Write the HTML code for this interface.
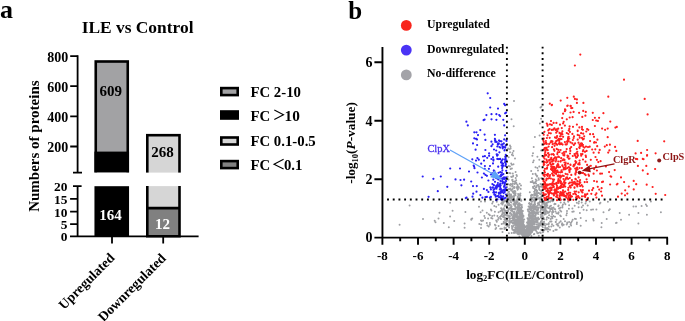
<!DOCTYPE html>
<html><head><meta charset="utf-8"><style>
html,body{margin:0;padding:0;background:#fff;width:685px;height:321px;overflow:hidden}
svg{display:block;will-change:transform}
text{font-family:"Liberation Serif",serif}
</style></head><body>
<svg width="685" height="321" viewBox="0 0 685 321" xmlns="http://www.w3.org/2000/svg">
<text x="0" y="17.7" font-weight="bold" font-size="26">a</text>
<text x="81.7" y="32.8" font-weight="bold" font-size="17.4">ILE vs Control</text>
<rect x="95.75" y="61.5" width="32" height="113" fill="#a2a2a4" stroke="#000" stroke-width="2.6"/>
<rect x="94.45" y="151.6" width="34.6" height="21" fill="#000"/>
<rect x="147.3" y="135.2" width="32.2" height="40" fill="#d6d6d6" stroke="#000" stroke-width="2.6"/>
<rect x="90" y="172.6" width="100" height="13" fill="#fff"/>
<rect x="94.45" y="186.2" width="34.6" height="50.1" fill="#000"/>
<rect x="147.3" y="186.1" width="32.2" height="22" fill="#d6d6d6"/>
<rect x="147.3" y="208.1" width="32.2" height="28.2" fill="#808080"/>
<path d="M147.3 186.1V236.3M179.5 186.1V236.3M146 208.1H180.8M146 236.3H180.8" stroke="#000" stroke-width="2.6" fill="none"/>
<path d="M77.6 55.2V172.6M73 172.6H82M77.6 186.1V236.3M73 186.1H81.6M70 236.3H198.6" stroke="#000" stroke-width="1.8" fill="none"/>
<path d="M70.2 56.1H77.6M70.2 86.2H77.6M70.2 116.4H77.6M70.2 146.5H77.6M70.1 198.8H77.6M70.1 211.6H77.6M70.1 224.2H77.6M112 236.3V243.6M163.2 236.3V243.6" stroke="#000" stroke-width="1.8" fill="none"/>
<text x="68.3" y="61.9" font-weight="bold" font-size="14" text-anchor="end">800</text>
<text x="68.3" y="92.0" font-weight="bold" font-size="14" text-anchor="end">600</text>
<text x="68.3" y="122.2" font-weight="bold" font-size="14" text-anchor="end">400</text>
<text x="68.3" y="152.3" font-weight="bold" font-size="14" text-anchor="end">200</text>
<text x="67.5" y="191.0" font-weight="bold" font-size="13.4" text-anchor="end">20</text>
<text x="67.5" y="203.7" font-weight="bold" font-size="13.4" text-anchor="end">15</text>
<text x="67.5" y="216.5" font-weight="bold" font-size="13.4" text-anchor="end">10</text>
<text x="67.5" y="229.1" font-weight="bold" font-size="13.4" text-anchor="end">5</text>
<text x="67.5" y="241.2" font-weight="bold" font-size="13.4" text-anchor="end">0</text>
<text x="110.85" y="95.6" font-weight="bold" font-size="15" text-anchor="middle">609</text>
<text x="162.45" y="156.5" font-weight="bold" font-size="15" text-anchor="middle">268</text>
<text x="110.55" y="219.8" font-weight="bold" font-size="15" text-anchor="middle" fill="#fff">164</text>
<text x="162.4" y="229.1" font-weight="bold" font-size="15" text-anchor="middle" fill="#fff">12</text>
<text transform="translate(115.5,258.7) rotate(-45)" font-weight="bold" font-size="13.7" text-anchor="end">Upregulated</text>
<text transform="translate(166.7,259) rotate(-45)" font-weight="bold" font-size="13.7" text-anchor="end">Downregulated</text>
<text transform="translate(39,211.8) rotate(-90)" font-weight="bold" font-size="15">Numbers of proteins</text>
<rect x="221.3" y="88.1" width="16.4" height="7" fill="#a2a2a4" stroke="#000" stroke-width="2.6"/>
<rect x="221.3" y="111.5" width="16.4" height="7" fill="#000" stroke="#000" stroke-width="2.6"/>
<rect x="221.3" y="137.5" width="16.4" height="7" fill="#d6d6d6" stroke="#000" stroke-width="2.6"/>
<rect x="221.3" y="161.1" width="16.4" height="7" fill="#808080" stroke="#000" stroke-width="2.6"/>
<text x="250.4" y="97.1" font-weight="bold" font-size="14.8">FC 2-10</text>
<text x="250.4" y="120.5" font-weight="bold" font-size="14.8">FC</text>
<path d="M274.3 110.1L283.5 114.7L274.3 119.4" stroke="#000" stroke-width="1.1" fill="none"/>
<text x="284.5" y="120.7" font-weight="bold" font-size="15.3">10</text>
<text x="250.4" y="146.4" font-weight="bold" font-size="14.8">FC 0.1-0.5</text>
<text x="250.4" y="169.7" font-weight="bold" font-size="14.8">FC</text>
<path d="M283.6 159.3L274 164.2L283.6 169" stroke="#000" stroke-width="1.1" fill="none"/>
<text x="283.9" y="169.7" font-weight="bold" font-size="14.8">0.1</text>
<text x="348.3" y="18.8" font-weight="bold" font-size="25">b</text>
<circle cx="406.3" cy="25.4" r="5.4" fill="#f8251c"/>
<text x="427.1" y="28" font-weight="bold" font-size="11.8">Upregulated</text>
<circle cx="406.3" cy="50.1" r="5.4" fill="#4a33f5"/>
<text x="427.1" y="52.7" font-weight="bold" font-size="11.8">Downregulated</text>
<circle cx="406.3" cy="74.9" r="5.4" fill="#a3a3a8"/>
<text x="427.1" y="77.3" font-weight="bold" font-size="11.8">No-difference</text>
<path d="M409.6 205.5h0M423.0 218.9h0M399.6 224.8h0M450.1 202.7h0M439.5 212.7h0M452.6 210.7h0M465.4 212.0h0M450.1 216.4h0M438.5 218.6h0M434.7 220.7h0M435.5 222.3h0M454.2 221.1h0M443.8 222.9h0M471.3 219.8h0M464.6 223.5h0M448.8 227.3h0M464.6 227.7h0M471.2 219.2h0M472.2 218.5h0M479.0 206.7h0M479.3 223.9h0M600.4 202.7h0M599.8 203.6h0M607.9 201.7h0M609.8 209.2h0M608.9 210.2h0M603.5 212.3h0M606.7 218.9h0M601.7 222.9h0M616.0 222.9h0M601.4 227.3h0M650.9 201.5h0M633.5 206.5h0M636.0 206.5h0M641.6 206.1h0M645.9 204.5h0M646.9 206.1h0M619.7 213.0h0M629.1 214.8h0M638.4 213.0h0M646.9 214.8h0M660.9 212.3h0M621.0 219.8h0M616.6 222.7h0M638.4 223.6h0M579.0 201.5h0M578.6 203.6h0M581.7 202.4h0M586.1 201.5h0M585.5 203.6h0M589.8 201.5h0M583.0 205.5h0M581.7 207.3h0M587.7 205.5h0M578.6 207.3h0M583.6 209.8h0M586.7 210.2h0M591.1 209.8h0M593.0 209.5h0M596.4 209.5h0M579.9 213.0h0M580.7 218.0h0M586.1 220.7h0M593.2 218.9h0M593.6 220.4h0M580.7 225.7h0M514.0 101.0h0M511.5 119.3h0M513.7 126.2h0M540.5 107.5h0M541.4 106.8h0M541.1 118.7h0M539.9 123.4h0M534.9 137.0h0M539.6 135.5h0M510.0 145.5h0M510.6 146.7h0M508.1 148.6h0M509.4 149.2h0M510.6 148.6h0M533.7 147.0h0M541.1 150.4h0M513.5 151.1h0M512.5 152.9h0M510.0 152.3h0M511.9 154.8h0M513.1 155.4h0M533.0 153.2h0M532.4 155.7h0M537.4 156.7h0M515.0 158.5h0M508.7 157.3h0M539.3 159.8h0M533.7 160.4h0M533.0 162.3h0M511.2 163.5h0M511.9 164.8h0M513.5 164.2h0M508.7 166.0h0M510.0 166.6h0M510.6 169.1h0M511.9 168.5h0M535.5 167.3h0M537.4 167.9h0M539.3 166.6h0M531.2 171.0h0M515.6 171.9h0M538.0 170.4h0M481.0 201.5h0M485.0 201.5h0M492.2 203.6h0M493.0 201.7h0M496.8 201.7h0M494.3 206.1h0M496.2 206.7h0M498.6 204.8h0M482.5 210.5h0M480.6 212.3h0M490.9 209.5h0M491.4 210.5h0M486.8 212.7h0M494.9 211.7h0M498.6 212.3h0M484.3 216.1h0M485.0 217.9h0M488.7 214.2h0M489.9 215.2h0M492.2 216.1h0M494.3 215.4h0M497.4 216.1h0M498.4 217.9h0M488.1 218.5h0M491.2 217.9h0M492.4 218.5h0M481.0 220.4h0M481.8 221.0h0M483.1 220.4h0M496.2 220.4h0M496.8 221.7h0M498.0 219.8h0M486.8 222.9h0M489.9 222.9h0M481.2 224.4h0M487.4 225.6h0M488.7 226.4h0M489.9 224.8h0M494.9 224.8h0M495.5 225.6h0M481.0 228.1h0M495.5 228.9h0M496.2 227.9h0M498.6 226.0h0M522.0 223.9h0M530.2 224.4h0M512.7 218.8h0M532.5 181.1h0M530.8 215.6h0M516.4 216.9h0M530.8 225.4h0M529.7 223.9h0M533.4 217.1h0M521.9 234.5h0M526.2 236.3h0M524.7 227.6h0M517.5 188.7h0M533.9 234.2h0M535.9 206.5h0M516.5 221.7h0M538.8 235.8h0M523.9 233.1h0M520.5 220.5h0M525.3 236.6h0M517.1 210.0h0M541.5 191.7h0M533.7 218.7h0M534.7 197.6h0M523.5 234.8h0M512.4 216.9h0M520.6 230.0h0M525.6 235.5h0M530.1 207.0h0M533.5 197.3h0M525.3 232.8h0M541.6 200.1h0M529.7 219.4h0M515.0 229.4h0M530.9 212.8h0M522.9 226.7h0M526.9 236.8h0M531.2 225.0h0M507.3 220.1h0M518.8 227.4h0M521.3 222.4h0M536.3 198.0h0M532.9 230.1h0M518.3 213.2h0M507.3 224.4h0M516.9 216.8h0M538.2 185.0h0M539.8 190.1h0M529.4 231.3h0M510.1 184.8h0M530.6 233.2h0M522.2 215.7h0M517.6 225.1h0M523.8 231.0h0M509.0 191.8h0M540.3 224.3h0M536.8 197.6h0M536.5 219.3h0M513.0 192.4h0M517.3 226.7h0M531.5 212.5h0M525.2 231.6h0M515.5 214.3h0M530.8 233.6h0M524.4 229.9h0M529.9 200.2h0M527.1 236.4h0M537.2 191.1h0M527.6 221.9h0M524.7 235.0h0M522.2 233.0h0M510.5 218.4h0M529.8 226.1h0M526.4 234.0h0M521.5 230.0h0M523.4 231.1h0M524.9 226.3h0M529.3 235.3h0M507.1 203.2h0M516.2 213.7h0M532.8 174.0h0M531.1 217.1h0M542.5 201.2h0M517.8 223.5h0M523.4 234.9h0M530.7 222.3h0M531.6 212.0h0M542.4 187.4h0M529.0 226.2h0M509.4 193.8h0M511.6 206.2h0M517.0 214.8h0M509.3 222.3h0M530.0 224.5h0M527.9 230.8h0M517.0 233.0h0M537.0 220.8h0M511.8 225.9h0M531.0 231.2h0M540.2 186.4h0M540.8 217.6h0M535.2 212.9h0M518.8 226.3h0M522.9 231.6h0M526.3 235.2h0M511.1 194.6h0M525.1 232.7h0M525.0 232.7h0M539.9 201.2h0M524.3 228.9h0M538.2 207.6h0M524.1 232.9h0M526.8 236.9h0M524.2 235.4h0M522.0 234.0h0M521.8 226.7h0M522.1 227.7h0M512.1 227.8h0M530.7 206.3h0M532.6 224.4h0M527.3 230.3h0M513.7 225.4h0M524.3 234.1h0M519.7 197.2h0M535.6 217.2h0M523.6 221.7h0M537.8 222.4h0M519.0 210.9h0M541.4 216.4h0M531.6 231.4h0M522.7 229.8h0M532.1 232.1h0M538.8 179.7h0M526.8 234.4h0M510.3 212.8h0M508.2 184.3h0M527.5 229.7h0M530.5 230.6h0M514.3 181.5h0M521.3 209.2h0M523.4 224.3h0M534.5 182.7h0M525.1 236.1h0M522.0 214.8h0M527.9 233.4h0M526.2 235.5h0M530.1 217.5h0M529.5 223.5h0M527.3 234.0h0M519.7 228.5h0M538.0 205.1h0M513.5 216.6h0M530.1 221.9h0M534.7 199.1h0M527.1 231.1h0M529.6 223.9h0M520.9 221.8h0M534.8 212.0h0M540.2 223.9h0M524.5 233.8h0M528.9 221.3h0M522.1 222.9h0M518.6 187.6h0M512.5 189.1h0M519.5 207.3h0M530.2 231.7h0M512.2 211.6h0M516.8 202.0h0M528.5 229.6h0M531.1 228.5h0M530.1 225.7h0M525.7 237.1h0M532.7 229.9h0M540.4 194.2h0M518.2 208.7h0M532.5 228.3h0M521.5 220.1h0M517.9 226.0h0M529.4 212.1h0M534.6 202.2h0M519.0 222.5h0M518.4 212.5h0M538.9 226.9h0M531.0 225.2h0M522.2 228.8h0M524.0 224.9h0M508.1 215.4h0M518.4 228.4h0M517.6 201.9h0M524.9 235.2h0M525.9 237.0h0M527.5 218.2h0M525.3 234.5h0M536.4 199.0h0M526.7 234.7h0M522.2 228.1h0M519.7 221.9h0M525.9 236.6h0M511.0 221.1h0M536.7 222.2h0M519.5 209.2h0M529.2 220.4h0M521.0 230.8h0M529.4 232.1h0M523.8 234.1h0M530.9 230.2h0M513.0 176.6h0M524.8 235.6h0M507.4 224.0h0M535.7 181.8h0M536.4 213.1h0M535.1 204.5h0M521.7 229.2h0M541.8 213.7h0M527.4 231.4h0M529.0 222.5h0M535.4 218.0h0M524.6 234.5h0M509.3 197.6h0M525.9 236.7h0M512.8 173.4h0M524.5 233.7h0M511.0 210.6h0M542.3 215.0h0M517.0 213.9h0M523.0 230.8h0M525.9 237.0h0M526.0 237.2h0M532.6 211.4h0M531.9 197.6h0M535.7 190.0h0M522.1 220.2h0M530.8 230.7h0M536.7 210.5h0M530.7 213.1h0M520.0 223.7h0M529.8 218.7h0M524.2 228.5h0M530.5 233.9h0M530.0 233.1h0M525.9 234.9h0M509.0 225.6h0M511.9 184.2h0M531.5 218.5h0M526.6 234.8h0M519.6 198.5h0M534.9 203.0h0M537.8 195.7h0M530.0 221.1h0M525.0 227.6h0M509.6 199.8h0M521.9 220.7h0M535.3 213.8h0M541.2 229.7h0M524.0 235.9h0M527.4 232.4h0M513.9 232.9h0M510.9 194.9h0M530.6 222.9h0M532.9 219.0h0M528.0 234.0h0M512.5 179.8h0M529.0 234.4h0M526.9 235.2h0M515.6 229.0h0M528.1 228.0h0M524.5 235.3h0M515.7 202.6h0M534.9 190.5h0M517.3 228.9h0M536.4 195.1h0M518.7 224.8h0M507.1 190.2h0M526.7 229.2h0M524.4 231.7h0M525.3 235.1h0M533.8 219.2h0M531.9 226.1h0M524.2 230.5h0M531.0 197.2h0M522.3 232.3h0M516.3 220.8h0M530.6 204.0h0M518.6 207.8h0M531.4 231.3h0M512.8 181.6h0M531.3 201.3h0M520.1 211.1h0M506.9 199.8h0M525.6 234.6h0M524.6 235.7h0M519.1 210.5h0M519.6 210.6h0M515.6 203.2h0M517.6 216.8h0M510.7 189.4h0M511.3 197.4h0M532.5 223.9h0M520.3 229.5h0M524.9 231.8h0M534.4 186.1h0M515.5 231.5h0M516.6 202.9h0M525.1 234.7h0M514.6 212.4h0M527.7 226.7h0M524.4 234.1h0M531.4 235.9h0M527.4 229.6h0M525.3 234.3h0M533.2 182.6h0M526.4 236.2h0M540.1 223.1h0M541.8 230.3h0M541.4 205.9h0M520.3 224.8h0M523.4 215.8h0M527.8 232.0h0M520.4 209.1h0M532.5 226.4h0M541.3 193.0h0M523.0 231.2h0M527.1 225.2h0M522.8 225.5h0M525.4 236.4h0M515.4 219.5h0M516.9 176.0h0M523.9 235.6h0M526.7 235.9h0M524.9 234.9h0M520.3 210.8h0M537.8 203.3h0M529.5 234.4h0M526.1 235.2h0M532.7 222.0h0M519.1 216.7h0M518.7 218.5h0M528.3 231.1h0M521.0 185.6h0M531.0 229.0h0M535.5 219.5h0M524.6 234.4h0M520.7 229.8h0M524.7 233.3h0M524.0 232.3h0M534.6 223.5h0M520.2 228.3h0M517.0 212.8h0M520.7 189.1h0M523.8 231.7h0M516.8 215.3h0M513.9 197.5h0M536.4 187.2h0M527.6 232.2h0M529.2 232.9h0M533.1 216.4h0M513.7 230.4h0M525.5 237.2h0M535.6 219.5h0M530.5 232.8h0M528.8 224.0h0M522.2 227.4h0M535.6 200.1h0M531.1 209.3h0M529.2 207.1h0M522.5 234.7h0M536.2 189.8h0M527.9 233.1h0M529.2 218.3h0M519.1 221.6h0M518.0 220.9h0M526.6 232.8h0M521.3 216.4h0M532.3 216.9h0M528.3 219.9h0M507.4 194.1h0M514.5 202.1h0M510.8 184.1h0M524.4 230.4h0M522.1 228.7h0M521.3 227.2h0M541.3 178.3h0M525.9 237.1h0M523.8 230.5h0M524.2 219.5h0M531.6 194.8h0M514.2 187.6h0M535.5 194.1h0M520.9 233.3h0M532.6 212.2h0M535.3 215.8h0M523.2 232.1h0M524.0 234.4h0M522.4 225.5h0M509.0 225.0h0M538.3 225.7h0M521.2 224.6h0M537.6 209.4h0M520.4 217.2h0M533.2 212.3h0M509.4 221.1h0M534.3 221.8h0M523.5 232.3h0M529.5 224.9h0M530.2 226.6h0M514.9 208.4h0M525.9 235.8h0M508.9 216.0h0M535.8 179.5h0M525.3 234.4h0M521.4 220.7h0M524.7 235.7h0M528.4 231.0h0M527.8 228.7h0M515.7 178.0h0M533.5 223.1h0M526.7 230.1h0M509.7 223.7h0M527.0 231.7h0M534.1 216.3h0M523.9 232.9h0M517.7 185.9h0M523.0 219.8h0M529.2 209.1h0M528.4 232.3h0M534.4 206.4h0M527.4 228.3h0M529.2 223.8h0M530.2 233.7h0M542.0 208.6h0M521.7 222.1h0M521.4 233.1h0M533.0 220.8h0M539.6 198.1h0M507.3 198.9h0M540.6 206.8h0M528.1 229.5h0M514.6 217.9h0M528.4 227.3h0M517.8 226.1h0M516.6 225.1h0M527.2 235.6h0M518.5 233.8h0M526.0 235.6h0M536.6 207.5h0M522.6 233.4h0M529.0 228.6h0M519.2 226.0h0M529.0 233.0h0M538.6 224.1h0M521.9 228.3h0M530.8 229.3h0M535.0 207.9h0M531.7 204.3h0M522.3 221.3h0M519.4 209.1h0M522.7 227.0h0M528.6 229.1h0M522.7 229.6h0M517.5 223.1h0M532.2 215.7h0M525.3 235.6h0M507.7 205.0h0M522.7 232.3h0M540.3 206.1h0M530.8 224.8h0M525.6 236.3h0M523.2 227.8h0M529.1 227.7h0M519.3 223.4h0M524.0 234.4h0M534.0 227.4h0M529.4 227.5h0M525.9 236.3h0M513.5 221.9h0M530.4 226.0h0M523.1 233.8h0M526.8 231.9h0M514.5 195.6h0M523.8 231.0h0M520.6 224.9h0M531.1 229.3h0M519.6 219.1h0M522.6 222.7h0M523.1 234.3h0M520.2 226.7h0M511.2 202.4h0M540.0 232.5h0M525.1 227.2h0M511.2 176.7h0M540.5 212.2h0M529.1 216.8h0M524.1 234.1h0M531.2 209.4h0M524.0 227.8h0M520.0 205.2h0M523.2 225.3h0M526.5 234.7h0M509.7 213.6h0M525.6 236.8h0M542.8 227.2h0M523.9 232.3h0M521.1 229.3h0M528.9 225.6h0M518.3 221.1h0M526.1 234.8h0M527.7 230.6h0M514.7 215.2h0M515.1 205.7h0M525.4 236.7h0M529.1 227.6h0M518.1 207.4h0M520.8 208.3h0M524.3 228.6h0M525.9 236.2h0M536.3 190.9h0M532.1 225.8h0M529.6 231.0h0M523.2 234.6h0M536.6 175.4h0M534.2 208.1h0M520.0 215.2h0M528.2 234.6h0M514.2 192.8h0M521.6 223.9h0M509.9 195.5h0M542.5 174.0h0M534.8 229.4h0M514.9 231.3h0M516.2 180.3h0M520.3 229.7h0M518.9 187.4h0M540.1 225.4h0M523.9 234.0h0M523.6 234.5h0M514.7 223.5h0M531.0 207.0h0M520.4 212.9h0M537.9 227.2h0M529.1 233.2h0M535.3 206.6h0M530.7 228.2h0M529.5 225.3h0M519.7 210.3h0M539.2 188.6h0M519.2 216.7h0M521.6 222.0h0M529.2 230.1h0M520.2 214.6h0M518.5 224.8h0M527.0 235.3h0M541.3 191.2h0M532.5 194.9h0M536.7 197.1h0M525.7 237.1h0M527.5 223.3h0M508.3 192.1h0M536.1 183.6h0M532.6 197.7h0M531.3 208.6h0M532.7 214.9h0M524.2 234.6h0M525.0 234.9h0M531.2 227.5h0M529.7 224.5h0M518.2 219.0h0M523.6 233.9h0M524.8 229.4h0M529.1 224.9h0M518.9 218.7h0M529.1 224.1h0M528.5 230.4h0M524.7 233.9h0M513.9 198.8h0M526.5 236.2h0M520.4 231.1h0M525.0 235.2h0M536.6 222.2h0M521.5 233.1h0M525.7 237.2h0M528.7 224.7h0M526.3 235.2h0M531.4 228.0h0M538.6 178.3h0M514.4 187.1h0M534.3 206.3h0M529.6 223.7h0M535.7 227.3h0M525.8 235.9h0M536.5 218.4h0M515.6 193.2h0M526.4 235.3h0M542.0 192.5h0M521.9 224.8h0M527.9 230.3h0M517.4 233.4h0M520.5 220.1h0M536.7 180.4h0M528.1 230.2h0M539.3 204.4h0M523.6 226.9h0M514.5 216.0h0M526.7 227.0h0M530.0 228.9h0M530.4 205.6h0M521.1 219.9h0M520.6 188.7h0M521.1 225.8h0M526.7 231.5h0M542.6 222.2h0M516.6 187.3h0M530.2 224.5h0M534.4 212.6h0M520.8 220.4h0M517.1 222.6h0M525.9 236.6h0M532.4 219.1h0M514.2 214.0h0M509.6 189.1h0M524.1 233.6h0M539.1 193.3h0M520.3 209.8h0M539.2 197.8h0M525.6 236.9h0M509.1 227.4h0M536.5 228.0h0M520.0 217.3h0M518.2 212.1h0M540.1 199.1h0M532.4 218.4h0M523.5 219.6h0M508.9 209.5h0M518.4 195.2h0M538.3 228.7h0M511.0 202.2h0M533.8 182.7h0M517.9 189.2h0M523.2 232.0h0M519.3 203.3h0M537.6 213.2h0M525.3 231.1h0M515.6 231.0h0M529.1 225.6h0M527.8 235.3h0M519.9 212.1h0M531.5 216.6h0M514.7 200.8h0M537.0 221.1h0M522.8 228.3h0M519.9 205.8h0M509.8 218.9h0M511.7 189.8h0M508.0 210.2h0M534.8 216.6h0M526.7 235.9h0M524.1 233.1h0M527.3 230.9h0M513.5 209.1h0M530.1 229.4h0M531.4 223.4h0M526.4 234.3h0M518.7 212.5h0M529.5 232.3h0M518.9 221.1h0M539.1 187.4h0M519.3 228.0h0M527.9 222.6h0M522.8 226.0h0M524.7 235.1h0M537.0 218.4h0M521.3 229.7h0M536.8 213.0h0M524.6 236.5h0M511.7 214.3h0M521.3 210.5h0M520.4 213.7h0M528.9 226.7h0M516.9 217.1h0M524.3 231.2h0M542.4 202.3h0M520.3 198.7h0M520.0 208.5h0M518.0 224.2h0M533.3 209.0h0M533.7 209.9h0M538.5 219.1h0M524.6 225.7h0M520.7 227.6h0M525.4 236.2h0M525.0 234.5h0M527.6 228.2h0M541.9 200.4h0M532.8 208.6h0M526.3 236.2h0M534.7 208.7h0M531.6 228.7h0M525.3 234.2h0M506.9 213.6h0M523.8 232.9h0M508.0 199.5h0M524.1 230.6h0M538.0 209.9h0M518.5 232.4h0M520.1 219.6h0M531.3 207.4h0M517.9 226.7h0M513.9 193.4h0M541.9 209.1h0M515.1 204.5h0M529.5 223.0h0M528.8 231.7h0M536.7 191.8h0M518.9 225.4h0M531.9 198.6h0M519.7 225.7h0M525.0 233.4h0M523.2 227.8h0M523.4 233.1h0M518.5 223.3h0M506.7 213.2h0M520.4 204.6h0M530.4 227.3h0M522.9 230.6h0M542.8 232.3h0M530.1 225.2h0M519.0 229.0h0M534.2 229.8h0M533.6 227.2h0M507.4 220.7h0M531.0 195.6h0M526.7 233.7h0M519.4 228.8h0M518.9 228.2h0M529.4 227.2h0M519.3 197.2h0M517.7 207.1h0M519.3 224.0h0M525.9 235.3h0M530.6 227.6h0M525.8 234.6h0M516.2 207.2h0M522.5 229.2h0M522.7 228.6h0M522.0 218.5h0M528.6 232.2h0M527.5 230.4h0M524.8 234.6h0M533.1 226.9h0M519.9 226.5h0M542.2 218.4h0M521.5 216.9h0M527.1 234.2h0M534.0 213.6h0M531.5 213.6h0M517.3 198.9h0M508.0 179.4h0M527.5 229.3h0M526.8 231.7h0M518.9 213.2h0M523.0 227.7h0M525.2 237.2h0M510.4 208.6h0M532.2 229.1h0M529.5 231.6h0M542.0 192.6h0M537.0 228.4h0M508.1 211.6h0M519.3 226.8h0M527.4 234.4h0M536.7 231.8h0M513.8 187.3h0M527.2 236.1h0M519.5 232.6h0M534.5 203.2h0M541.1 221.8h0M530.4 229.6h0M534.6 226.7h0M535.0 200.4h0M519.4 215.9h0M527.9 233.2h0M533.1 224.1h0M525.8 237.0h0M525.1 233.7h0M514.9 203.2h0M518.2 221.2h0M516.5 219.2h0M511.2 198.5h0M507.7 176.8h0M532.8 214.8h0M525.4 234.3h0M511.6 214.2h0M529.5 226.3h0M536.5 221.2h0M515.1 232.7h0M534.6 205.1h0M520.4 221.3h0M524.4 230.3h0M521.6 217.9h0M526.8 229.1h0M521.3 225.8h0M519.0 228.9h0M525.7 236.6h0M526.8 234.9h0M522.5 232.7h0M518.8 227.4h0M536.8 224.4h0M521.4 221.9h0M525.0 233.6h0M532.9 225.9h0M538.1 209.3h0M520.3 217.3h0M530.3 231.1h0M524.5 231.8h0M529.1 234.8h0M526.1 234.7h0M519.9 214.2h0M522.9 225.5h0M521.2 213.9h0M510.7 197.4h0M531.0 221.3h0M523.2 223.7h0M525.6 236.9h0M513.1 197.1h0M519.3 205.4h0M536.2 221.8h0M524.8 235.5h0M529.8 233.3h0M525.8 236.8h0M527.0 234.4h0M509.2 196.6h0M523.0 232.9h0M516.4 228.2h0M524.1 234.4h0M523.9 234.8h0M522.1 233.9h0M521.1 200.0h0M524.1 236.2h0M529.3 226.0h0M513.7 196.1h0M537.1 212.2h0M536.3 228.7h0M536.0 198.5h0M538.1 217.6h0M539.3 187.0h0M523.8 227.7h0M532.8 230.5h0M537.3 185.5h0M525.7 235.6h0M534.3 234.0h0M538.8 179.4h0M508.9 191.7h0M528.1 219.4h0M529.0 203.6h0M523.6 236.4h0M512.1 228.8h0M524.8 235.8h0M507.8 189.5h0M507.1 187.0h0M541.1 198.0h0M534.6 228.5h0M520.5 227.0h0M518.2 219.6h0M512.5 208.9h0M523.5 225.4h0M525.0 235.0h0M527.3 228.3h0M521.2 228.1h0M521.3 231.1h0M511.7 232.9h0M516.8 187.4h0M531.7 228.4h0M519.7 219.6h0M529.2 226.8h0M529.1 214.8h0M519.6 222.1h0M523.7 231.9h0M530.7 227.8h0M521.6 226.5h0M512.5 185.8h0M529.1 229.6h0M533.2 230.0h0M519.6 214.3h0M539.9 201.9h0M528.0 229.4h0M520.6 230.6h0M536.4 210.1h0M524.3 231.4h0M521.1 221.6h0M506.7 218.9h0M512.6 191.4h0M507.5 202.8h0M524.1 232.5h0M518.2 207.1h0M526.0 236.3h0M513.6 219.8h0M531.8 213.4h0M529.7 230.1h0M512.0 209.3h0M522.9 232.5h0M522.3 218.2h0M528.8 233.1h0M531.4 229.5h0M534.4 219.6h0M525.5 235.1h0M517.8 232.2h0M512.2 208.7h0M521.7 222.3h0M532.6 205.9h0M510.2 185.4h0M515.6 222.4h0M542.4 201.1h0M524.9 236.1h0M513.3 215.2h0M523.4 233.2h0M537.0 176.6h0M529.4 208.7h0M522.4 217.2h0M511.2 195.4h0M519.3 221.8h0M528.8 215.6h0M509.2 216.0h0M532.3 219.2h0M520.5 223.4h0M512.0 196.4h0M521.5 217.6h0M525.8 235.2h0M540.5 183.9h0M519.7 183.8h0M531.0 231.7h0M525.4 235.0h0M527.2 232.5h0M528.1 230.9h0M516.3 182.9h0M527.6 235.6h0M519.5 236.6h0M527.7 232.3h0M525.6 237.1h0M517.2 204.6h0M531.2 226.1h0M528.6 206.5h0M523.3 226.3h0M523.3 230.8h0M530.8 216.4h0M515.4 202.2h0M520.1 214.6h0M517.4 201.4h0M520.3 210.9h0M532.9 220.1h0M525.8 237.2h0M520.7 200.4h0M514.4 217.9h0M522.6 228.5h0M528.8 222.4h0M533.1 228.5h0M534.8 182.8h0M528.8 228.3h0M531.6 210.5h0M515.3 191.2h0M532.5 199.1h0M529.1 230.1h0M520.5 219.2h0M520.9 231.6h0M520.4 233.1h0M509.5 222.5h0M524.0 236.2h0M525.1 235.8h0M514.2 187.9h0M517.4 201.8h0M530.7 208.2h0M524.0 233.8h0M527.0 234.0h0M524.0 234.3h0M519.0 229.0h0M525.8 235.2h0M521.1 227.2h0M535.4 173.7h0M534.0 209.5h0M533.2 207.3h0M516.3 225.0h0M520.5 210.9h0M527.8 232.3h0M534.8 227.1h0M524.3 228.2h0M528.6 220.8h0M515.2 216.8h0M530.4 204.5h0M540.9 221.4h0M521.1 212.2h0M526.3 234.8h0M520.9 231.2h0M530.6 227.2h0M530.1 204.8h0M530.2 223.8h0M532.6 219.4h0M522.4 230.6h0M530.4 222.8h0M523.3 232.0h0M522.3 235.6h0M530.2 220.4h0M521.5 217.8h0M510.1 208.0h0M535.1 217.2h0M525.4 235.3h0M534.1 221.7h0M529.3 233.8h0M518.6 217.4h0M515.1 222.3h0M509.9 216.2h0M536.5 206.3h0M521.6 229.7h0M523.5 231.3h0M522.4 227.0h0M515.5 183.0h0M523.4 230.2h0M513.5 211.9h0M522.3 233.2h0M534.5 188.7h0M527.0 233.3h0M525.9 236.5h0M510.5 207.2h0M521.6 211.9h0M517.0 207.8h0M512.0 200.0h0M526.2 236.4h0M537.1 194.1h0M536.1 228.5h0M525.2 235.9h0M515.9 229.8h0M508.9 233.3h0M518.4 211.0h0M538.2 233.1h0M514.7 191.7h0M520.9 209.6h0M530.1 228.4h0M527.0 233.8h0M531.4 220.3h0M520.9 228.2h0M528.5 223.5h0M519.3 217.1h0M535.8 209.1h0M529.8 192.2h0M527.8 209.5h0M519.0 231.2h0M534.5 224.2h0M528.1 226.9h0M535.1 193.2h0M509.1 173.1h0M526.2 236.9h0M538.3 192.9h0M524.4 232.6h0M529.7 224.6h0M539.2 189.3h0M520.2 204.3h0M533.4 200.5h0M528.2 236.2h0M524.5 233.4h0M526.1 235.2h0M521.0 228.4h0M519.6 216.9h0M535.5 228.5h0M524.3 235.3h0M521.4 228.1h0M533.4 223.9h0M526.5 235.2h0M526.9 236.1h0M520.0 204.5h0M524.6 235.6h0M512.1 186.6h0M535.7 174.5h0M530.4 230.0h0M536.7 192.3h0M540.7 233.0h0M522.2 232.9h0M522.8 222.8h0M524.6 236.2h0M536.9 190.5h0M516.7 216.9h0M518.2 204.3h0M520.4 193.4h0M535.9 230.6h0M529.4 202.9h0M535.9 194.9h0M526.3 234.2h0M527.7 233.3h0M513.7 213.6h0M508.5 179.5h0M527.2 235.0h0M514.9 214.2h0M512.1 179.9h0M538.1 212.2h0M523.2 220.2h0M540.3 211.6h0M523.9 229.2h0M523.1 221.7h0M523.9 225.6h0M525.4 236.3h0M513.4 199.6h0M520.0 217.9h0M522.0 207.5h0M530.8 217.9h0M524.6 229.2h0M513.9 204.8h0M514.5 231.2h0M519.8 219.9h0M542.3 185.5h0M534.2 228.6h0M518.0 209.1h0M540.7 212.3h0M524.2 231.6h0M532.1 226.4h0M527.8 223.5h0M510.1 184.5h0M538.1 214.0h0M516.5 215.8h0M531.0 225.1h0M537.0 221.7h0M510.8 204.9h0M513.4 204.1h0M523.3 229.1h0M507.8 225.3h0M518.6 186.8h0M526.9 232.1h0M510.1 188.6h0M528.1 230.5h0M523.4 216.7h0M512.5 223.2h0M529.3 216.1h0M523.6 221.9h0M534.7 223.3h0M529.6 221.4h0M536.2 217.9h0M514.2 190.9h0M523.3 235.5h0M530.9 212.8h0M533.6 213.6h0M526.9 236.2h0M520.6 219.1h0M526.0 236.9h0M524.0 235.0h0M516.5 175.1h0M520.5 227.8h0M510.5 222.0h0M521.8 222.8h0M532.0 230.1h0M522.7 230.5h0M530.5 230.3h0M514.0 201.7h0M522.1 219.5h0M517.5 214.1h0M509.1 203.8h0M513.6 229.7h0M534.4 193.8h0M513.1 220.3h0M527.2 225.5h0M528.1 211.0h0M534.6 223.9h0M526.9 231.2h0M531.9 178.2h0M520.4 223.3h0M520.1 226.7h0M534.8 227.1h0M523.5 220.1h0M534.4 216.8h0M522.3 230.1h0M527.6 231.6h0M527.1 233.5h0M528.2 231.4h0M507.5 203.5h0M530.6 232.6h0M537.1 227.4h0M527.9 227.1h0M513.8 232.7h0M531.7 182.1h0M541.6 196.4h0M519.7 210.6h0M539.1 202.5h0M531.4 223.6h0M515.1 224.4h0M529.2 227.4h0M521.2 218.3h0M528.8 214.3h0M520.1 228.1h0M532.5 226.9h0M541.9 220.4h0M508.6 208.6h0M515.1 220.3h0M535.3 201.0h0M527.4 230.5h0M526.0 236.2h0M519.4 194.4h0M523.0 236.7h0M515.4 181.5h0M532.2 221.6h0M528.1 232.8h0M525.3 237.2h0M526.9 236.7h0M529.5 229.5h0M514.9 192.9h0M526.1 236.8h0M523.3 231.8h0M531.5 230.2h0M528.3 230.2h0M516.6 211.9h0M514.5 184.1h0M528.0 231.9h0M520.0 214.0h0M514.1 211.8h0M532.9 226.4h0M540.9 210.1h0M518.0 227.5h0M536.5 186.1h0M535.1 209.6h0M521.6 210.4h0M529.3 230.6h0M517.8 215.9h0M531.5 220.9h0M533.7 212.8h0M520.1 221.6h0M524.1 228.1h0M520.7 225.9h0M517.9 210.2h0M523.7 227.2h0M527.5 231.0h0M514.7 200.2h0M527.6 232.1h0M522.8 230.5h0M520.4 227.3h0M541.6 186.6h0M522.7 232.1h0M522.2 218.4h0M514.8 181.8h0M523.0 233.1h0M537.1 220.4h0M525.9 235.5h0M532.0 201.7h0M507.4 224.2h0M534.1 219.4h0M523.8 236.1h0M527.8 232.8h0M527.4 231.5h0M530.2 230.8h0M525.2 234.3h0M522.9 230.5h0M528.4 235.8h0M520.4 195.5h0M535.5 193.6h0M524.7 235.6h0M521.6 233.2h0M507.8 198.1h0M529.4 234.4h0M526.2 235.8h0M533.9 229.0h0M517.2 199.4h0M524.1 232.9h0M516.8 200.9h0M528.2 229.9h0M520.0 234.0h0M525.1 230.7h0M527.4 230.1h0M523.5 235.6h0M526.4 235.4h0M519.7 199.5h0M509.0 189.0h0M533.2 188.0h0M524.2 235.7h0M529.7 221.4h0M516.7 216.5h0M519.2 227.5h0M521.0 231.9h0M537.2 175.9h0M530.1 213.0h0M521.6 229.5h0M532.9 187.1h0M532.6 212.9h0M523.8 235.8h0M521.6 227.1h0M509.2 198.4h0M521.0 215.9h0M529.0 231.8h0M511.6 176.9h0M515.1 206.2h0M525.7 236.5h0M523.7 235.6h0M522.0 207.5h0M528.3 234.8h0M517.6 189.8h0M520.2 215.2h0M533.8 224.1h0M527.0 222.5h0M542.1 226.0h0M527.8 229.3h0M526.8 226.3h0M523.7 229.7h0M519.0 226.3h0M530.0 224.9h0M528.6 223.3h0M537.4 233.2h0M529.8 213.1h0M524.2 225.5h0M532.0 230.9h0M526.8 231.4h0M528.4 232.4h0M522.2 222.9h0M529.3 206.9h0M526.7 234.7h0M527.6 232.1h0M530.8 232.2h0M527.5 232.9h0M514.7 216.3h0M522.4 226.7h0M527.8 222.5h0M509.0 217.8h0M513.9 217.7h0M519.6 230.6h0M521.5 219.1h0M526.4 234.6h0M525.0 226.8h0M534.4 222.1h0M512.9 223.4h0M521.5 232.5h0M520.5 218.2h0M518.2 208.6h0M522.9 211.0h0M518.1 193.9h0M534.1 191.7h0M527.0 236.2h0M530.8 215.6h0M526.6 231.4h0M526.5 234.8h0M528.6 230.0h0M521.8 205.0h0M524.1 225.3h0M535.7 207.1h0M522.5 219.7h0M531.3 227.0h0M524.0 232.7h0M535.0 221.6h0M521.8 206.8h0M542.1 204.0h0M515.1 227.5h0M522.2 232.1h0M511.2 190.5h0M536.7 196.3h0M525.5 236.8h0M518.0 218.6h0M527.0 234.9h0M520.2 233.1h0M511.4 207.9h0M519.2 212.6h0M534.8 213.0h0M535.3 217.8h0M523.9 231.9h0M528.2 220.5h0M528.5 234.6h0M519.3 210.2h0M525.5 234.3h0M542.3 223.3h0M527.0 228.5h0M511.5 197.3h0M512.4 210.0h0M532.2 214.0h0M534.7 224.4h0M531.8 230.8h0M522.6 214.3h0M521.1 232.5h0M530.0 230.5h0M519.3 218.5h0M525.8 235.2h0M523.1 226.4h0M517.6 196.9h0M537.6 220.8h0M541.3 196.7h0M521.1 230.7h0M526.5 234.0h0M531.1 221.1h0M517.8 218.1h0M532.0 220.9h0M530.6 210.3h0M542.4 195.1h0M521.5 217.3h0M510.4 173.2h0M529.2 221.3h0M525.2 235.0h0M526.1 234.2h0M518.1 206.1h0M518.2 210.8h0M529.9 226.5h0M527.4 228.3h0M515.6 222.7h0M515.1 209.4h0M521.8 226.0h0M520.6 208.2h0M515.4 208.5h0M523.1 233.7h0M525.8 234.5h0M519.5 233.7h0M524.7 234.1h0M533.9 183.4h0M530.6 222.3h0M539.1 218.9h0M532.0 226.0h0M526.9 233.3h0M518.9 219.2h0M520.9 229.9h0M525.1 231.5h0M507.6 226.0h0M527.9 231.4h0M515.4 193.8h0M521.1 221.0h0M508.6 202.3h0M528.6 227.8h0M534.2 195.0h0M523.1 227.1h0M529.3 227.8h0M528.8 220.4h0M508.9 194.9h0M528.8 223.1h0M523.5 232.5h0M533.8 215.5h0M526.6 230.3h0M529.0 222.4h0M527.7 233.5h0M523.9 234.7h0M533.2 223.5h0M538.8 207.7h0M529.3 211.5h0M524.2 229.0h0M524.1 234.1h0M537.5 207.4h0M527.9 227.8h0M522.9 223.1h0M536.2 218.5h0M522.2 225.7h0M521.3 220.3h0M524.7 228.9h0M527.6 234.7h0M518.4 232.3h0M524.1 230.7h0M523.2 232.8h0M516.6 187.8h0M519.1 224.8h0M525.5 234.4h0M535.8 187.4h0M529.6 233.0h0M523.1 215.7h0M527.2 228.7h0M514.2 196.2h0M526.1 233.2h0M511.7 220.9h0M514.9 202.5h0M533.8 204.7h0M517.6 219.6h0M517.6 220.2h0M540.8 208.2h0M521.1 229.1h0M522.9 225.9h0M537.8 199.1h0M518.2 234.3h0M529.9 221.7h0M525.9 236.4h0M515.0 224.2h0M535.9 214.7h0M525.0 234.9h0M526.1 236.1h0M540.8 217.0h0M532.1 227.2h0M517.6 185.0h0M514.9 221.6h0M514.9 232.2h0M516.1 224.0h0M518.0 224.4h0M524.2 235.3h0M522.3 227.3h0M531.4 203.4h0M527.6 231.6h0M535.5 198.9h0M535.9 212.7h0M519.1 198.2h0M528.5 223.7h0M509.2 205.3h0M515.1 231.7h0M516.4 231.3h0M539.6 190.0h0M517.4 227.7h0M529.4 221.6h0M519.6 222.3h0M515.6 225.0h0M527.2 236.0h0M520.0 208.8h0M518.5 229.8h0M510.9 213.8h0M512.4 218.5h0M531.9 228.6h0M524.7 232.7h0M528.7 211.7h0M524.0 234.4h0M512.8 227.1h0M539.0 203.9h0M542.6 185.9h0M530.7 181.9h0M531.5 216.1h0M526.1 235.6h0M511.3 222.0h0M507.7 215.7h0M525.8 236.4h0M526.1 235.1h0M525.2 234.9h0M522.9 227.8h0M521.7 213.1h0M532.6 214.3h0M527.3 230.7h0M520.9 230.9h0M517.6 219.7h0M531.5 213.0h0M531.1 224.0h0M522.2 213.1h0M531.3 222.1h0M507.7 202.7h0M537.8 212.2h0M526.7 236.7h0M529.7 214.8h0M511.5 214.9h0M527.3 228.9h0M531.8 211.7h0M516.5 183.8h0M518.3 222.1h0M532.7 217.3h0M527.6 230.2h0M520.2 199.3h0M513.2 175.7h0M527.3 233.6h0M533.4 210.4h0M512.7 200.8h0M521.3 200.8h0M537.3 227.3h0M518.6 195.2h0M521.0 229.8h0M533.3 205.6h0M523.6 232.3h0M542.2 208.0h0M517.6 227.9h0M514.0 216.7h0M528.0 231.3h0M523.9 236.0h0M518.0 219.2h0M540.7 214.8h0M514.4 204.8h0M512.7 183.7h0M518.4 222.3h0M515.5 195.2h0M522.1 219.3h0M528.3 223.1h0M512.6 229.7h0M534.9 195.1h0M538.5 186.0h0M509.5 195.2h0M533.6 227.6h0M526.1 231.2h0M527.7 234.8h0M520.9 226.0h0M527.0 232.9h0M517.8 230.3h0M510.1 200.5h0M516.3 228.2h0M522.3 231.0h0M520.8 208.2h0M514.8 223.5h0M525.2 235.4h0M536.4 226.7h0M525.0 233.3h0M515.8 226.9h0M541.3 202.0h0M522.6 230.5h0M523.1 235.6h0M533.9 200.4h0M507.8 215.5h0M530.5 220.5h0M524.0 232.3h0M540.2 223.7h0M523.9 231.6h0M522.2 224.0h0M532.4 221.8h0M525.6 235.3h0M530.8 223.3h0M547.3 205.3h0M545.2 227.6h0M545.3 205.0h0M568.2 201.8h0M558.6 205.6h0M544.1 209.2h0M552.5 201.2h0M548.9 226.8h0M544.2 213.7h0M543.3 231.3h0M561.2 211.6h0M543.4 212.0h0M550.1 201.8h0M545.4 200.2h0M559.1 208.5h0M560.4 207.7h0M543.8 206.9h0M546.9 229.5h0M545.4 205.9h0M555.9 221.9h0M543.0 224.3h0M568.0 201.5h0M543.2 232.0h0M556.6 224.3h0M572.3 211.7h0M547.3 211.8h0M555.0 216.8h0M544.7 223.8h0M556.7 229.7h0M544.7 206.8h0M548.7 224.6h0M576.8 202.8h0M547.1 202.7h0M553.3 212.0h0M546.5 204.0h0M548.7 201.4h0M566.7 224.5h0M542.9 210.1h0M548.8 223.2h0M546.5 219.6h0M554.7 203.7h0M551.3 200.6h0M550.9 221.6h0M551.5 221.4h0M562.3 224.1h0M560.7 202.6h0M563.7 224.8h0M545.2 208.1h0M543.3 203.6h0M549.3 208.2h0M551.0 208.7h0M574.9 218.7h0M557.9 223.9h0M563.0 204.6h0M544.7 214.4h0M566.9 213.3h0M545.8 214.0h0M565.4 204.2h0M551.2 200.0h0M545.9 203.2h0M563.7 219.1h0M556.5 219.8h0M549.5 211.7h0M543.3 224.5h0M575.9 219.1h0M573.7 211.6h0M548.2 207.9h0M552.4 218.2h0M543.5 212.5h0M543.1 230.6h0M552.3 217.5h0M561.2 199.7h0M544.7 210.0h0M544.6 204.7h0M549.7 206.5h0M555.7 221.9h0M548.3 228.9h0M542.6 206.2h0M555.5 229.8h0M558.4 212.4h0M549.0 212.5h0M551.3 226.6h0M551.2 216.5h0M553.3 215.9h0M549.1 215.3h0M558.2 213.7h0M543.5 224.7h0M558.3 206.2h0M567.2 222.6h0M562.4 225.6h0M558.3 225.7h0M543.8 201.6h0M572.4 208.4h0M542.7 224.5h0M547.1 227.9h0M562.4 207.5h0M544.5 204.2h0M553.5 207.5h0M557.7 225.4h0M552.0 211.9h0M571.0 222.8h0M546.7 206.7h0M554.4 204.2h0M562.1 223.2h0M552.1 209.3h0M546.1 206.4h0M553.4 225.8h0M555.5 211.6h0M546.9 217.6h0M569.1 226.7h0M546.4 205.0h0M551.0 205.7h0M550.4 209.4h0M568.9 208.8h0M544.3 210.4h0M550.1 221.5h0M564.2 202.5h0M560.7 221.2h0M570.6 224.2h0M574.7 205.8h0M560.9 216.3h0M544.1 207.5h0M571.8 221.5h0M545.8 209.0h0M542.7 215.9h0M572.7 219.7h0M544.9 205.4h0M545.9 213.5h0M544.0 221.7h0M544.8 200.7h0M550.0 229.8h0M552.0 224.2h0M548.7 218.1h0M546.3 210.8h0M544.1 201.8h0M546.1 229.0h0M571.1 225.6h0M544.1 219.2h0M547.9 213.1h0M545.7 213.1h0M560.2 215.4h0M544.7 203.3h0M546.7 202.8h0M552.1 213.9h0M561.9 224.6h0M567.2 223.5h0M544.9 211.7h0M559.4 222.6h0M576.8 223.9h0M565.0 221.3h0M543.5 217.7h0M555.2 209.3h0M545.2 225.6h0M567.0 211.0h0M542.6 206.9h0M566.4 215.2h0M545.2 203.3h0M559.8 227.4h0M546.7 199.8h0M559.6 200.1h0M569.1 205.2h0M548.0 231.4h0M553.4 231.1h0M556.5 213.2h0M552.9 210.9h0M558.6 212.5h0M545.7 212.0h0M569.1 222.1h0M544.8 223.8h0M545.1 228.0h0M554.2 209.1h0M544.9 207.2h0M547.5 211.9h0M576.9 222.6h0M547.3 217.2h0M553.0 201.1h0M543.1 212.8h0M542.9 222.6h0M546.9 224.3h0M555.5 203.9h0M564.3 202.8h0M550.7 218.9h0M562.4 206.0h0M549.9 211.2h0M560.2 210.6h0M548.1 202.2h0M552.0 208.1h0M543.4 201.4h0M544.5 230.0h0M549.9 206.7h0M543.5 218.3h0M546.6 206.1h0M501.0 215.9h0M500.3 228.7h0M502.5 231.9h0M502.7 216.6h0M506.5 215.6h0M506.9 207.9h0M503.4 202.4h0M504.7 206.1h0M505.2 222.9h0M504.7 210.4h0M506.1 214.9h0M505.1 217.9h0M504.9 217.4h0M504.4 219.2h0M504.5 200.7h0M506.0 200.3h0M502.2 202.0h0M503.5 223.6h0M504.4 200.3h0M504.0 213.3h0M505.7 210.7h0M503.7 222.0h0M501.0 219.1h0M503.8 212.9h0M502.4 213.2h0M500.1 216.8h0M502.4 211.1h0M504.7 201.3h0M504.5 227.5h0M506.5 214.6h0M506.3 215.3h0M502.4 204.6h0M502.9 203.0h0M506.9 225.8h0M506.6 206.0h0M502.7 201.0h0M502.1 203.7h0M504.4 228.9h0M505.1 222.6h0M501.2 210.5h0M501.7 224.1h0M501.9 210.1h0M503.0 202.0h0M505.2 205.3h0M505.5 224.8h0M502.4 209.8h0M504.9 210.3h0M506.9 211.2h0M500.4 218.4h0M506.4 201.5h0M506.1 212.0h0M506.4 224.6h0M506.7 205.7h0M504.5 215.2h0M507.0 225.0h0M506.2 222.0h0M502.7 213.9h0M503.8 221.7h0M503.9 215.8h0M502.0 214.7h0M505.0 220.1h0M501.1 208.2h0M503.4 208.6h0M504.5 228.2h0M502.7 203.7h0M506.0 228.0h0M506.7 220.5h0M505.2 219.5h0M505.9 211.2h0M504.2 209.7h0M502.6 210.0h0M505.5 211.6h0M505.2 212.1h0M501.8 203.5h0M500.4 211.3h0M506.7 214.9h0M502.8 212.0h0M501.9 228.7h0M503.4 217.1h0M504.8 228.7h0M504.8 214.2h0M501.2 215.8h0M505.7 228.2h0M501.2 203.5h0M504.0 208.3h0" stroke="#9fa0a4" stroke-width="2" stroke-linecap="round" fill="none"/><path d="M422.7 176.5h0M433.4 178.8h0M440.8 176.5h0M450.2 168.5h0M460.0 168.5h0M455.5 179.4h0M460.5 180.0h0M464.1 179.7h0M447.3 186.8h0M461.4 185.3h0M437.8 191.2h0M428.6 196.8h0M487.7 93.3h0M490.2 98.0h0M504.2 103.9h0M505.1 105.2h0M490.2 107.5h0M498.0 108.6h0M486.4 115.1h0M491.5 114.2h0M496.4 114.2h0M499.2 115.0h0M500.1 116.1h0M506.1 112.7h0M505.1 113.3h0M483.6 120.2h0M484.6 119.6h0M491.5 119.3h0M496.4 119.8h0M503.3 119.8h0M466.4 121.7h0M467.8 125.4h0M504.2 125.4h0M480.3 130.1h0M474.3 132.3h0M476.5 132.3h0M478.0 135.1h0M484.6 134.6h0M494.9 134.8h0M505.1 135.3h0M474.3 138.3h0M476.2 138.9h0M494.9 138.9h0M504.2 139.4h0M477.0 139.4h0M485.4 139.9h0M491.4 141.7h0M473.0 143.4h0M477.1 145.0h0M475.6 149.7h0M485.4 150.0h0M491.4 146.2h0M489.1 153.4h0M483.0 156.5h0M484.9 156.2h0M487.2 157.8h0M489.1 155.8h0M477.4 158.1h0M478.8 159.7h0M472.3 159.3h0M476.0 160.6h0M484.0 160.6h0M481.2 163.7h0M473.7 165.6h0M474.1 166.5h0M484.9 166.0h0M490.0 166.0h0M491.4 159.0h0M469.0 171.5h0M474.5 168.2h0M477.5 172.5h0M484.7 168.8h0M488.9 168.8h0M483.9 173.5h0M485.4 174.8h0M486.9 175.8h0M490.9 174.5h0M481.9 177.5h0M471.2 181.5h0M488.4 180.5h0M473.0 186.1h0M476.8 186.1h0M483.9 188.9h0M486.9 190.1h0M488.4 191.9h0M490.4 187.4h0M490.9 189.4h0M476.5 191.7h0M473.2 193.7h0M480.4 195.1h0M472.5 196.7h0M466.5 197.7h0M465.8 198.1h0M482.4 197.7h0M485.4 197.1h0M486.9 196.9h0M489.9 197.7h0M490.9 196.9h0M504.2 189.9h0M500.0 193.1h0M498.5 172.8h0M506.1 177.3h0M495.1 140.4h0M502.0 191.0h0M500.1 185.2h0M492.2 173.3h0M497.3 146.5h0M503.7 190.6h0M505.2 162.2h0M499.0 140.6h0M504.1 198.3h0M499.7 176.4h0M493.5 190.0h0M500.4 192.2h0M499.4 184.8h0M505.5 188.5h0M503.5 189.8h0M493.9 185.2h0M496.1 186.0h0M497.8 144.2h0M497.8 176.9h0M502.8 166.6h0M494.0 149.5h0M495.2 141.8h0M500.6 185.4h0M493.5 159.6h0M500.1 187.0h0M505.8 154.8h0M504.1 177.4h0M494.4 171.2h0M498.8 143.4h0M502.5 146.7h0M494.6 174.1h0M503.7 193.1h0M505.3 178.6h0M495.3 173.4h0M506.3 190.2h0M492.6 187.7h0M504.4 186.4h0M502.6 165.0h0M498.8 192.8h0M506.4 160.3h0M502.8 178.6h0M498.2 166.7h0M499.1 140.5h0M501.3 161.7h0M500.5 193.4h0M495.4 140.4h0M504.4 185.7h0M500.2 147.6h0M503.8 146.8h0M496.4 188.7h0M505.8 145.4h0M496.2 200.2h0M500.9 198.3h0M500.8 199.2h0M504.0 186.8h0M499.4 152.3h0M496.6 187.7h0M497.2 186.8h0M500.9 176.3h0M498.4 179.5h0M498.6 185.5h0M501.6 165.6h0M504.6 178.9h0M493.8 170.7h0M499.7 140.9h0M494.2 173.5h0M497.4 199.4h0M493.3 179.7h0M506.2 187.6h0M494.3 194.6h0M500.1 158.9h0M500.5 185.0h0M505.7 181.0h0M503.8 143.4h0M499.0 186.2h0M496.8 142.0h0M502.4 170.3h0M500.9 195.9h0M500.5 180.9h0M492.9 187.4h0M492.4 184.1h0M501.1 174.7h0M504.7 185.2h0M503.3 199.2h0M501.4 141.3h0M505.9 194.5h0M501.8 172.5h0M500.2 183.6h0M505.9 145.4h0M505.8 158.0h0M501.4 190.2h0M502.3 163.2h0M502.3 192.2h0M503.5 177.6h0M503.1 165.7h0M496.7 154.3h0M501.0 197.6h0M502.8 159.3h0M506.2 170.8h0M502.5 183.3h0M506.1 181.2h0M502.4 181.4h0M493.0 157.3h0M497.9 183.0h0M497.7 154.9h0M501.3 144.7h0M502.2 198.7h0M506.4 140.4h0M500.3 172.0h0M497.2 178.5h0M502.6 179.5h0M495.4 187.7h0M504.9 178.8h0M502.5 144.3h0M500.5 192.6h0M503.9 182.3h0M495.0 181.8h0M497.6 186.0h0M502.7 148.3h0M505.3 156.7h0M505.2 183.0h0M505.2 147.7h0M495.4 195.2h0M493.9 191.8h0M499.0 197.2h0M503.4 174.1h0M493.2 175.3h0M505.0 159.8h0M497.3 158.9h0M497.5 196.1h0M505.6 197.8h0M497.3 184.9h0M497.1 155.7h0M499.8 189.3h0M500.7 191.6h0M495.2 176.8h0M503.1 163.6h0M502.0 175.0h0M501.7 160.7h0M501.0 162.4h0M505.8 163.9h0M497.1 177.0h0M493.0 163.4h0M501.7 199.7h0M492.6 144.3h0M502.5 196.6h0M505.0 189.9h0M498.6 196.2h0M504.9 179.0h0M494.4 192.5h0M504.8 184.0h0M496.1 178.0h0M503.2 196.3h0M498.0 144.6h0M502.1 178.5h0M500.8 188.7h0M504.7 150.1h0M505.1 162.2h0M505.8 164.8h0M494.2 189.3h0M506.5 141.0h0M498.9 193.8h0M499.5 147.0h0M504.1 177.5h0M498.8 159.1h0M498.7 144.0h0M496.1 192.4h0M505.4 165.9h0M504.5 150.4h0M495.7 196.7h0M504.7 191.9h0M495.7 177.6h0M496.2 150.5h0M493.9 170.7h0M493.3 192.5h0M502.1 168.1h0M505.4 158.6h0M493.4 160.6h0" stroke="#2a20f5" stroke-width="2.2" stroke-linecap="round" fill="none"/><path d="M580.3 54.6h0M574.9 65.5h0M573.8 96.7h0M567.3 97.8h0M574.9 98.9h0M560.7 100.6h0M549.8 103.7h0M552.0 104.8h0M567.3 105.9h0M570.5 105.9h0M572.3 108.0h0M565.0 109.3h0M576.9 99.4h0M576.9 102.9h0M583.4 102.9h0M579.1 112.8h0M583.2 110.9h0M585.8 111.9h0M582.3 116.9h0M585.4 115.7h0M592.8 112.8h0M594.9 117.8h0M592.8 120.0h0M596.2 120.5h0M597.9 120.9h0M599.1 117.8h0M576.9 124.6h0M579.4 127.4h0M582.0 126.9h0M594.9 126.0h0M587.1 129.1h0M588.3 129.8h0M582.9 129.8h0M577.7 131.1h0M586.3 131.5h0M581.1 133.2h0M583.2 133.7h0M590.1 134.2h0M593.1 134.2h0M577.7 134.9h0M584.2 136.3h0M579.8 137.7h0M594.0 136.8h0M597.4 139.7h0M582.9 139.4h0M590.1 141.1h0M577.7 139.7h0M594.5 142.0h0M582.0 143.5h0M575.1 143.4h0M578.5 142.7h0M580.1 146.2h0M581.5 145.6h0M582.9 144.8h0M583.3 146.7h0M584.3 147.6h0M579.6 148.1h0M588.0 147.1h0M589.7 146.7h0M594.1 142.7h0M596.0 142.5h0M597.2 146.2h0M592.2 149.5h0M595.3 149.3h0M599.7 149.9h0M583.3 150.2h0M582.9 151.3h0M585.0 151.8h0M586.6 150.9h0M577.3 151.8h0M576.3 153.2h0M581.0 154.0h0M582.4 154.1h0M593.6 152.7h0M598.8 152.7h0M575.4 156.0h0M585.7 155.6h0M586.0 157.0h0M595.5 157.0h0M590.8 159.8h0M596.9 159.8h0M575.4 161.2h0M576.3 162.1h0M579.6 160.5h0M598.3 162.1h0M600.6 161.2h0M578.2 164.2h0M579.6 164.4h0M587.1 164.9h0M590.8 165.8h0M596.0 166.3h0M575.9 168.6h0M579.6 168.0h0M594.1 169.1h0M596.9 170.5h0M575.4 173.3h0M576.3 172.3h0M584.7 174.2h0M585.7 175.1h0M588.5 174.7h0M589.0 175.8h0M593.6 173.7h0M600.2 173.7h0M602.0 173.6h0M575.4 178.9h0M575.9 179.3h0M580.1 180.1h0M579.6 181.7h0M586.6 179.3h0M584.7 182.1h0M587.1 182.1h0M594.1 181.0h0M596.9 181.7h0M602.0 182.1h0M603.0 181.7h0M574.5 183.6h0M575.1 183.1h0M577.3 186.4h0M580.1 186.1h0M574.5 187.3h0M593.2 188.2h0M592.2 190.1h0M597.8 186.8h0M599.2 189.6h0M601.6 188.2h0M582.9 190.1h0M581.5 191.5h0M582.4 192.4h0M576.3 191.5h0M589.0 190.7h0M601.1 191.5h0M585.7 195.2h0M584.3 196.2h0M591.3 193.8h0M596.4 193.4h0M595.5 194.8h0M578.7 197.1h0M579.6 198.0h0M602.0 195.7h0M596.4 197.6h0M588.0 198.0h0M624.0 79.7h0M608.3 96.7h0M644.7 98.9h0M603.4 113.2h0M647.6 114.4h0M610.3 121.6h0M602.1 128.6h0M605.1 129.8h0M607.7 128.6h0M615.4 127.6h0M616.8 126.9h0M607.7 137.2h0M637.7 140.9h0M664.2 141.3h0M604.8 146.6h0M606.8 145.2h0M609.9 144.7h0M615.1 146.9h0M609.4 150.4h0M616.3 150.9h0M608.2 152.6h0M635.6 153.4h0M641.1 152.9h0M647.1 150.0h0M647.1 155.0h0M655.6 153.3h0M635.9 158.9h0M642.8 158.9h0M605.9 166.5h0M609.1 172.1h0M614.7 170.1h0M610.5 176.3h0M611.2 176.7h0M621.0 177.4h0M610.1 184.5h0M616.8 184.5h0M617.5 183.8h0M624.1 182.1h0M633.7 180.9h0M636.2 184.2h0M628.8 186.6h0M633.7 189.4h0M625.2 190.3h0M621.7 193.6h0M625.0 195.3h0M627.3 193.6h0M618.0 196.7h0M637.2 159.2h0M643.5 159.2h0M647.0 155.7h0M637.9 165.9h0M646.3 165.9h0M642.8 170.4h0M647.7 173.9h0M655.1 169.0h0M646.7 184.7h0M652.6 187.0h0M655.7 193.8h0M665.2 195.0h0M551.8 105.2h0M567.7 105.6h0M570.9 106.0h0M571.2 108.1h0M565.5 110.0h0M564.9 111.2h0M570.5 112.5h0M573.6 111.9h0M563.1 113.7h0M562.2 118.1h0M569.7 117.5h0M572.6 117.2h0M566.8 119.3h0M551.0 121.0h0M563.7 121.8h0M563.1 123.4h0M547.5 124.7h0M550.0 124.3h0M551.8 124.9h0M560.0 124.7h0M564.9 125.6h0M573.0 126.8h0M561.8 128.1h0M551.8 129.9h0M555.6 129.9h0M556.8 129.3h0M569.3 128.9h0M568.7 130.5h0M561.8 133.0h0M562.4 134.3h0M566.8 133.0h0M572.4 133.9h0M544.4 131.8h0M546.9 138.0h0M555.0 137.4h0M563.1 136.8h0M568.7 136.8h0M568.0 138.4h0M569.3 138.6h0M573.6 138.0h0M551.2 141.1h0M552.5 141.8h0M550.6 142.4h0M556.2 141.1h0M559.3 140.9h0M564.9 142.1h0M568.7 141.1h0M570.5 142.4h0M545.0 143.6h0M543.7 144.3h0M556.2 143.9h0M558.7 143.6h0M559.9 144.3h0M566.8 144.3h0M572.4 143.4h0M582.0 137.9h0M549.6 129.1h0M565.2 169.2h0M572.3 182.2h0M567.2 168.1h0M575.9 171.0h0M550.8 133.3h0M544.3 194.9h0M553.9 158.6h0M547.7 150.2h0M573.5 182.6h0M570.0 153.5h0M564.8 167.5h0M577.0 198.6h0M570.2 192.8h0M567.5 155.5h0M551.2 158.3h0M562.4 153.3h0M549.1 160.2h0M557.9 187.5h0M560.5 172.3h0M564.8 183.8h0M575.4 174.6h0M569.9 199.4h0M571.4 185.3h0M551.2 166.6h0M571.0 196.2h0M579.6 144.7h0M543.3 192.8h0M579.2 147.3h0M563.5 184.6h0M561.5 195.3h0M573.3 183.5h0M549.4 178.0h0M547.9 192.7h0M562.4 131.3h0M554.6 183.8h0M558.0 188.8h0M548.9 133.1h0M568.4 196.1h0M567.8 194.4h0M553.8 154.9h0M545.9 187.2h0M543.8 138.6h0M556.2 173.9h0M560.7 161.0h0M555.6 142.3h0M551.6 161.3h0M561.1 186.2h0M557.3 195.1h0M544.9 186.4h0M577.2 185.5h0M558.2 180.9h0M561.4 193.7h0M581.1 143.4h0M558.4 165.2h0M577.4 181.2h0M558.6 181.9h0M545.5 184.3h0M551.5 154.3h0M573.4 199.8h0M552.8 179.3h0M565.6 173.8h0M559.5 152.0h0M548.3 153.1h0M547.1 167.8h0M551.1 188.8h0M566.9 178.1h0M562.6 144.6h0M568.4 134.0h0M565.9 195.8h0M545.4 184.8h0M568.2 199.7h0M569.6 171.0h0M574.5 154.0h0M568.9 167.2h0M554.4 128.4h0M563.4 193.9h0M564.4 154.0h0M558.7 181.8h0M559.1 157.1h0M557.3 154.1h0M575.1 193.5h0M562.1 172.0h0M562.7 166.3h0M559.5 142.8h0M561.0 185.9h0M574.6 191.6h0M569.0 158.8h0M560.1 198.1h0M560.2 139.1h0M560.2 198.8h0M583.0 172.8h0M563.0 190.3h0M569.6 200.2h0M564.5 159.9h0M551.6 168.1h0M552.1 147.2h0M549.3 160.4h0M577.9 155.7h0M543.6 193.9h0M560.1 136.3h0M554.6 189.6h0M582.0 129.2h0M561.3 176.6h0M544.4 183.2h0M556.4 182.9h0M570.4 164.6h0M556.9 185.4h0M547.5 189.0h0M572.0 196.5h0M562.6 187.0h0M553.1 183.9h0M562.7 160.2h0M545.9 141.0h0M553.2 154.1h0M549.5 129.2h0M548.2 190.3h0M553.6 186.4h0M544.0 162.6h0M555.5 168.6h0M547.7 185.3h0M547.4 188.7h0M564.3 155.5h0M546.1 199.9h0M577.5 154.2h0M552.9 164.3h0M556.7 148.9h0M554.0 193.3h0M547.9 173.8h0M544.7 162.0h0M557.1 144.8h0M546.3 198.1h0M553.4 193.7h0M545.1 198.8h0M549.8 188.4h0M559.0 187.5h0M544.5 174.6h0M564.6 183.1h0M547.4 190.3h0M551.6 193.3h0M546.8 184.5h0M556.1 189.3h0M574.8 164.7h0M555.1 191.8h0M553.6 122.9h0M551.9 187.7h0M543.5 189.2h0M570.1 168.3h0M545.0 182.3h0M554.8 172.8h0M544.7 194.9h0M544.9 155.7h0M555.0 157.4h0M557.7 166.7h0M560.8 136.1h0M562.8 195.5h0M567.1 141.4h0M556.2 159.7h0M550.3 192.7h0M572.8 156.0h0M547.6 135.3h0M559.5 187.9h0M568.9 183.5h0M566.3 197.4h0M566.8 193.7h0M562.6 175.6h0M579.4 162.9h0M550.2 162.6h0M576.8 149.1h0M561.0 144.0h0M558.3 161.5h0M543.8 149.4h0M547.5 125.8h0M558.1 181.2h0M543.9 186.3h0M549.1 144.0h0M564.1 185.5h0M544.3 170.7h0M551.9 169.9h0M553.3 193.9h0M557.9 164.2h0M574.0 136.3h0M557.5 188.2h0M575.8 163.0h0M560.6 161.6h0M543.4 184.4h0M550.9 184.2h0M573.9 145.0h0M554.3 167.1h0M553.8 186.9h0M578.6 177.4h0M556.4 193.4h0M570.7 187.6h0M549.9 191.4h0M548.6 146.6h0M547.5 161.9h0M572.9 140.0h0M585.5 161.7h0M564.2 196.1h0M570.0 182.5h0M548.1 192.8h0M571.9 180.1h0M553.4 163.8h0M548.8 194.9h0M577.6 184.5h0M556.2 196.7h0M560.4 192.0h0M546.5 179.7h0M544.3 164.5h0M569.8 186.2h0M554.4 171.8h0M558.8 138.8h0M543.6 195.3h0M559.5 132.9h0M571.5 182.5h0M550.5 190.5h0M555.3 171.1h0M570.5 165.0h0M553.0 171.4h0M577.7 130.5h0M551.4 198.2h0M546.8 123.5h0M560.9 181.5h0M547.8 153.3h0M557.0 187.1h0M551.9 184.5h0M548.0 196.5h0M558.2 128.7h0M572.3 185.1h0M579.4 135.5h0M543.7 165.1h0M560.3 192.9h0M565.7 166.0h0M562.3 165.4h0M557.4 170.6h0M549.6 188.2h0M568.0 139.6h0M543.4 181.0h0M563.7 192.4h0M548.1 192.4h0M543.7 134.7h0M544.8 154.1h0M558.0 192.2h0M577.0 157.2h0M552.5 161.2h0M575.2 168.6h0M544.8 199.7h0M563.6 169.4h0M548.4 178.5h0M579.6 182.9h0M561.5 170.4h0M561.6 139.1h0M566.0 168.7h0M553.9 149.4h0M546.8 160.6h0M559.7 195.4h0M546.5 159.6h0M556.1 137.9h0M570.0 148.7h0M570.6 169.1h0M546.1 142.8h0M546.6 178.7h0M561.1 185.4h0M573.4 166.2h0M548.3 130.4h0M543.6 161.3h0M550.8 178.5h0M568.1 178.9h0M560.3 186.7h0M545.0 168.8h0M552.4 141.4h0M568.8 167.5h0M564.3 181.0h0M556.6 190.5h0M563.5 179.0h0M549.8 192.5h0M550.4 159.4h0M558.6 172.3h0M560.6 150.0h0M546.3 199.2h0M548.7 197.0h0M586.0 146.6h0M567.6 157.3h0M545.2 188.8h0M545.0 186.5h0M560.1 180.4h0M567.9 198.5h0M566.0 151.7h0M566.1 178.5h0M567.0 177.4h0M557.1 136.1h0M554.9 189.6h0M570.3 150.9h0M558.7 167.2h0M553.8 172.5h0M565.6 144.4h0M553.1 129.7h0M580.8 190.1h0M571.2 147.1h0M544.8 188.4h0M565.5 196.0h0M554.4 167.7h0M545.7 199.9h0M567.5 174.4h0M547.2 184.6h0M556.4 157.6h0M552.9 166.8h0M543.9 181.3h0M551.6 189.9h0M556.4 122.9h0M568.8 199.5h0M560.1 175.7h0M547.7 175.9h0M557.9 187.5h0M561.2 158.2h0M560.0 167.1h0M573.3 194.0h0M568.2 137.1h0M560.7 133.9h0M555.7 161.5h0M543.8 163.7h0M573.9 164.8h0M543.6 186.3h0M548.3 156.3h0M571.3 174.9h0M568.0 163.6h0M553.4 180.9h0M556.2 159.9h0M558.4 149.9h0M587.3 193.9h0M560.9 194.5h0M552.8 163.6h0M547.4 165.6h0M553.8 168.1h0M551.0 169.2h0M568.3 156.2h0M544.7 148.0h0M555.9 157.4h0M545.5 148.7h0M546.7 149.4h0M569.5 172.1h0M549.9 184.4h0M545.2 152.3h0M568.2 189.9h0M557.1 165.3h0M551.1 164.7h0M543.6 179.4h0M575.0 155.3h0M552.7 169.4h0M546.7 147.8h0M546.6 162.6h0M556.0 191.3h0M566.7 149.1h0M556.2 183.7h0M576.8 196.7h0M568.9 197.1h0M558.3 156.7h0M565.5 182.8h0M543.5 174.9h0M555.0 169.4h0M565.2 186.6h0M577.0 183.7h0M552.1 173.6h0M558.2 139.8h0M564.0 195.2h0M554.3 170.6h0M546.9 168.7h0M556.8 167.0h0M578.1 196.1h0M544.5 158.6h0M546.7 185.4h0M556.3 192.4h0M546.1 155.2h0M558.2 182.9h0M544.9 172.3h0M545.9 155.2h0M543.7 141.8h0M566.3 177.6h0M557.2 171.9h0M548.9 194.2h0M558.7 175.4h0M582.0 172.9h0M564.5 162.5h0M543.3 140.3h0M552.7 144.2h0M565.2 191.5h0M545.8 147.9h0M569.8 178.0h0M559.9 176.9h0M545.4 151.0h0M563.7 194.0h0M546.7 197.0h0M555.1 193.4h0M563.8 199.6h0M544.6 176.3h0M546.3 191.1h0M557.2 166.1h0M563.5 155.2h0M552.2 185.2h0M569.9 131.9h0M565.7 163.8h0M555.9 168.3h0M578.7 192.3h0M561.8 193.7h0M560.5 183.0h0M576.3 183.7h0M547.9 174.7h0M556.8 137.4h0M569.8 198.2h0M555.4 169.9h0M546.2 180.3h0M553.1 175.4h0M564.0 167.9h0M550.4 187.5h0M556.2 158.3h0M561.9 183.3h0M574.5 187.8h0M567.3 142.8h0M549.3 193.1h0M557.4 140.4h0M570.1 194.9h0M583.0 159.5h0M549.7 137.8h0M548.9 198.6h0M557.4 197.4h0M564.1 182.2h0M569.5 158.5h0M554.6 145.8h0M554.7 143.5h0M560.7 182.8h0M558.9 198.6h0M552.5 159.8h0M546.2 186.0h0M553.9 195.4h0M574.6 181.8h0M550.1 175.0h0M553.9 175.4h0M549.2 154.8h0M570.9 196.8h0M563.5 159.3h0M549.3 192.8h0M562.1 172.1h0M568.4 187.8h0M544.4 197.9h0M557.7 175.9h0M568.8 192.7h0M548.5 156.9h0M544.9 183.3h0M556.2 132.7h0M576.0 194.5h0M585.0 194.3h0M551.3 157.8h0M574.0 165.7h0M557.7 152.4h0M586.4 199.9h0M549.2 184.3h0M563.4 186.8h0M582.0 196.3h0M552.7 182.4h0M570.4 197.3h0M561.5 143.4h0M546.5 174.8h0M565.6 179.4h0M582.7 186.6h0M554.4 150.8h0M553.6 160.4h0M581.2 155.7h0M580.3 182.7h0M557.4 131.2h0M550.1 163.3h0M568.6 167.3h0M564.9 164.8h0M565.6 162.6h0M553.8 167.6h0M546.8 143.9h0M576.1 197.3h0M548.4 164.8h0M581.6 185.2h0M543.6 157.2h0M549.8 176.1h0M583.8 138.8h0M556.9 187.9h0M569.6 126.4h0M553.0 185.3h0M579.0 184.2h0M564.1 152.0h0M558.4 179.2h0M563.7 186.6h0M552.5 183.3h0M560.1 193.6h0M545.9 194.3h0M543.8 187.1h0M545.0 198.6h0M575.9 184.5h0M576.1 157.7h0M563.8 176.0h0M560.2 200.0h0M581.9 168.1h0M560.3 177.8h0M560.7 187.8h0M569.9 200.1h0M576.5 169.4h0M556.1 173.4h0M550.7 198.0h0M562.3 192.3h0M557.0 200.2h0M558.1 176.4h0M562.1 184.7h0M577.6 169.3h0M573.7 166.3h0M559.7 196.1h0M585.2 197.0h0M554.1 179.6h0M577.1 167.6h0M568.0 198.9h0M554.5 190.3h0M569.1 170.0h0" stroke="#ff2020" stroke-width="2.2" stroke-linecap="round" fill="none"/>
<path d="M450 150L493 174" stroke="#5ea2f8" stroke-width="1.3"/>
<path d="M494.5 170.4L490.2 177.2L502.5 180Z" fill="#5ea2f8"/>
<path d="M506.9 47.6h0M542.6 47.6h0M506.9 53.3h0M542.6 53.3h0M506.9 59.0h0M542.6 59.0h0M506.9 64.7h0M542.6 64.7h0M506.9 70.4h0M542.6 70.4h0M506.9 76.1h0M542.6 76.1h0M506.9 81.8h0M542.6 81.8h0M506.9 87.5h0M542.6 87.5h0M506.9 93.2h0M542.6 93.2h0M506.9 98.9h0M542.6 98.9h0M506.9 104.6h0M542.6 104.6h0M506.9 110.3h0M542.6 110.3h0M506.9 116.0h0M542.6 116.0h0M506.9 121.7h0M542.6 121.7h0M506.9 127.4h0M542.6 127.4h0M506.9 133.1h0M542.6 133.1h0M506.9 138.8h0M542.6 138.8h0M506.9 144.5h0M542.6 144.5h0M506.9 150.2h0M542.6 150.2h0M506.9 155.9h0M542.6 155.9h0M506.9 161.6h0M542.6 161.6h0M506.9 167.3h0M542.6 167.3h0M506.9 173.0h0M542.6 173.0h0M506.9 178.7h0M542.6 178.7h0M506.9 184.4h0M542.6 184.4h0M506.9 190.1h0M542.6 190.1h0M506.9 195.8h0M542.6 195.8h0M506.9 201.5h0M542.6 201.5h0M506.9 207.2h0M542.6 207.2h0M506.9 212.9h0M542.6 212.9h0M506.9 218.6h0M542.6 218.6h0M506.9 224.3h0M542.6 224.3h0M506.9 230.0h0M542.6 230.0h0M506.9 235.7h0M542.6 235.7h0M388.0 199.5h0M393.7 199.5h0M399.4 199.5h0M405.1 199.5h0M410.8 199.5h0M416.5 199.5h0M422.2 199.5h0M427.9 199.5h0M433.6 199.5h0M439.3 199.5h0M445.0 199.5h0M450.7 199.5h0M456.4 199.5h0M462.1 199.5h0M467.8 199.5h0M473.5 199.5h0M479.2 199.5h0M484.9 199.5h0M490.6 199.5h0M496.3 199.5h0M502.0 199.5h0M507.7 199.5h0M513.4 199.5h0M519.1 199.5h0M524.8 199.5h0M530.5 199.5h0M536.2 199.5h0M541.9 199.5h0M547.6 199.5h0M553.3 199.5h0M559.0 199.5h0M564.7 199.5h0M570.4 199.5h0M576.1 199.5h0M581.8 199.5h0M587.5 199.5h0M593.2 199.5h0M598.9 199.5h0M604.6 199.5h0M610.3 199.5h0M616.0 199.5h0M621.7 199.5h0M627.4 199.5h0M633.1 199.5h0M638.8 199.5h0M644.5 199.5h0M650.2 199.5h0M655.9 199.5h0M661.6 199.5h0" stroke="#000" stroke-width="1.9" stroke-linecap="square" fill="none"/>
<path d="M382.45 47V237.6M374.4 237.6H668M374.4 179.2H382.45M374.4 120.7H382.45M374.4 62.3H382.45M382.4 237.6V244.79999999999998M400.2 237.6V241.2M418.0 237.6V244.79999999999998M435.8 237.6V241.2M453.6 237.6V244.79999999999998M471.4 237.6V241.2M489.2 237.6V244.79999999999998M507.0 237.6V241.2M524.8 237.6V244.79999999999998M542.6 237.6V241.2M560.4 237.6V244.79999999999998M578.2 237.6V241.2M596.0 237.6V244.79999999999998M613.8 237.6V241.2M631.6 237.6V244.79999999999998M649.4 237.6V241.2M667.2 237.6V244.79999999999998" stroke="#000" stroke-width="1.9" fill="none"/>
<text x="372.5" y="242.4" font-weight="bold" font-size="14" text-anchor="end">0</text>
<text x="372.5" y="184.0" font-weight="bold" font-size="14" text-anchor="end">2</text>
<text x="372.5" y="125.5" font-weight="bold" font-size="14" text-anchor="end">4</text>
<text x="372.5" y="67.1" font-weight="bold" font-size="14" text-anchor="end">6</text>
<text x="382.4" y="260.4" font-weight="bold" font-size="13" text-anchor="middle">-8</text>
<text x="418.0" y="260.4" font-weight="bold" font-size="13" text-anchor="middle">-6</text>
<text x="453.6" y="260.4" font-weight="bold" font-size="13" text-anchor="middle">-4</text>
<text x="489.2" y="260.4" font-weight="bold" font-size="13" text-anchor="middle">-2</text>
<text x="524.8" y="260.4" font-weight="bold" font-size="13" text-anchor="middle">0</text>
<text x="560.4" y="260.4" font-weight="bold" font-size="13" text-anchor="middle">2</text>
<text x="596.0" y="260.4" font-weight="bold" font-size="13" text-anchor="middle">4</text>
<text x="631.6" y="260.4" font-weight="bold" font-size="13" text-anchor="middle">6</text>
<text x="667.2" y="260.4" font-weight="bold" font-size="13" text-anchor="middle">8</text>
<text x="466.2" y="279" font-weight="bold" font-size="13.2">log<tspan font-size="8.5" dy="2.3">2</tspan><tspan dy="-2.3">FC(ILE/Control)</tspan></text>
<text transform="translate(355.2,183.8) rotate(-90)" font-weight="bold" font-size="13.3">-log<tspan font-size="8.5" dy="2.5">10</tspan><tspan dy="-2.5">(</tspan><tspan font-style="italic">P</tspan>-value)</text>
<text x="427.4" y="152" font-size="10.4" fill="#4b32f0" stroke="#4b32f0" stroke-width="0.3">ClpX</text>
<path d="M614.5 163.9L589 168.8" stroke="#951111" stroke-width="1.3"/>
<path d="M581.8 170.8L589.6 165.2L590.8 172.2Z" fill="#951111"/>
<circle cx="579.6" cy="172.6" r="1.9" fill="#8b1010"/>
<text x="612.9" y="163.2" font-weight="bold" font-size="10.3" fill="#8e1515">ClgR</text>
<circle cx="659.2" cy="160.4" r="2" fill="#8b1a1a"/>
<text x="662.6" y="159.8" font-weight="bold" font-size="10.3" fill="#8e1515">ClpS</text>
</svg>
</body></html>
